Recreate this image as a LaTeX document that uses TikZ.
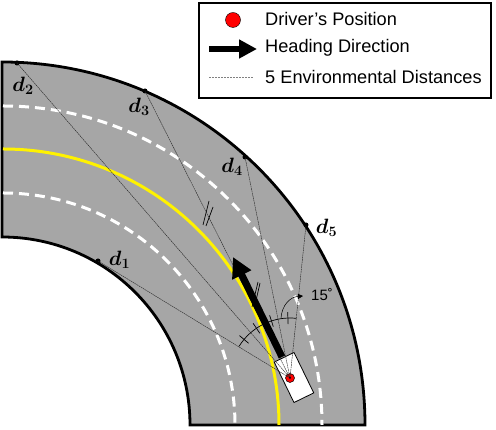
\documentclass[tikz,border=0pt]{standalone}
\usepackage{amsmath,amssymb}
\usepackage{fontspec}
\setmainfont{Liberation Sans}
\usepackage{tikz}
\usetikzlibrary{arrows.meta, positioning, calc}
\definecolor{road}{RGB}{166,166,166}

\begin{document}
\begin{tikzpicture}[x=1pt,y=1pt,
      edge/.style={draw=black, line width=2.8pt, fill=road},
      lane/.style={white, line width=3pt, dash pattern=on 10pt off 6pt},
      mid/.style={yellow, line width=3pt},
      pin/.style={circle, fill=black, inner sep=0pt, minimum size=5pt},
      dlab/.style={inner sep=0pt, font=\fontsize{20}{20}\selectfont},
      ray/.style={black!85, line width=0.4pt, dash pattern=on 1.8pt off 0.6pt},
      thinmark/.style={black, line width=0.7pt},
      drv/.style={circle, draw=black, line width=0.5pt, fill=red, inner sep=0pt},
      head/.style={-{Triangle[length=20pt,width=20pt]}, black, line width=7pt},
      legtxt/.style={anchor=west, inner sep=0pt, font=\fontsize{18.2}{20}\selectfont}]
    \useasboundingbox (0,0) rectangle (496,430);
    \draw[edge] (2,368) arc[start angle=90,end angle=0,radius=363pt] -- (190,5)
      arc[start angle=0,end angle=90,radius=188pt] -- cycle;
    \draw[lane] (3,237) arc[start angle=90,end angle=0,radius=232pt];
    \draw[lane] (3,324) arc[start angle=90,end angle=0,radius=319pt];
    \draw[mid] (3,281) arc[start angle=90,end angle=0,radius=276pt];

    \node[pin] (d1) at (98,169) {};
    \node[pin] (d2) at (17,367) {};
    \node[pin] (d3) at (145,339) {};
    \node[pin] (d4) at (245,273) {};
    \node[pin] (d5) at (306,205) {};
    \node[dlab, right=8pt of d1, yshift=1pt] (l1) {$\boldsymbol{d}_{\boldsymbol{1}}$};
    \node[dlab, below=11pt of d2, xshift=6pt] (l2) {$\boldsymbol{d}_{\boldsymbol{2}}$};
    \node[dlab, below=4pt of d3, xshift=-6pt] (l3) {$\boldsymbol{d}_{\boldsymbol{3}}$};
    \node[dlab, below=-2pt of d4, xshift=-13pt] (l4) {$\boldsymbol{d}_{\boldsymbol{4}}$};
    \node[dlab, right=7pt of d5, yshift=-3pt] (l5) {$\boldsymbol{d}_{\boldsymbol{5}}$};

    \node[draw=black, line width=0.8pt, fill=white, rectangle, minimum width=22pt, minimum height=45pt,
      rotate=26] (car) at (294,52.5) {};
    \node[drv, minimum size=9pt] (me) at (290,52) {};
    \foreach \i in {1,...,5} \draw[ray] (me.center) -- (d\i.center);
    \fill[black] (me.center) circle (1pt);

    \draw[thinmark] ($(me)+(84:60)$) arc[start angle=84,end angle=148,radius=60pt];
    \foreach \a in {92,108,124,140} \draw[thinmark] ($(me)+(\a:54)$) -- ($(me)+(\a:66)$);
    \coordinate (h0) at (282,73);
    \coordinate (h1) at (233,173);
    \draw[head] (h0) -- (h1);
    \coordinate (a0) at (281,112);
    \coordinate (a1) at (303,134);
    \draw[-{Triangle[length=5pt,width=5pt]}, black, line width=0.5pt] (a0) .. controls (282,125) and (290,133) .. (a1);
    \node[inner sep=0pt, anchor=west, font=\fontsize{15}{16}\selectfont] (ang) at (311,135) {15˚};

    \draw[thinmark] (203,205) -- (209,229);
    \draw[thinmark] (206,204) -- (213,223);
    \draw[thinmark] (252,123) -- (258,148);
    \draw[thinmark] (255,125) -- (260,147);

    \node[draw=black, line width=2.4pt, minimum width=292pt, minimum height=95pt, anchor=north west,
      inner sep=0pt] (legend) at (198,428) {};
    \node[circle, draw=black, line width=0.4pt, fill=red, minimum size=15pt, inner sep=0pt] (k1) at (233,410) {};
    \node[legtxt] (t1) at (265,411) {Driver's Position};
    \coordinate (k2a) at (209,381);
    \coordinate (k2b) at (257,381);
    \draw[-{Triangle[length=18pt,width=18pt]}, black, line width=5.5pt] (k2a) -- (k2b);
    \node[legtxt] (t2) at (265,382) {Heading Direction};
    \coordinate (k3a) at (209,353);
    \coordinate (k3b) at (253,353);
    \draw[gray, line width=0.4pt, dash pattern=on 2pt off 1pt] (k3a) -- (k3b);
    \node[legtxt] (t3) at (265,353) {5 Environmental Distances};
  \end{tikzpicture}
\end{document}
